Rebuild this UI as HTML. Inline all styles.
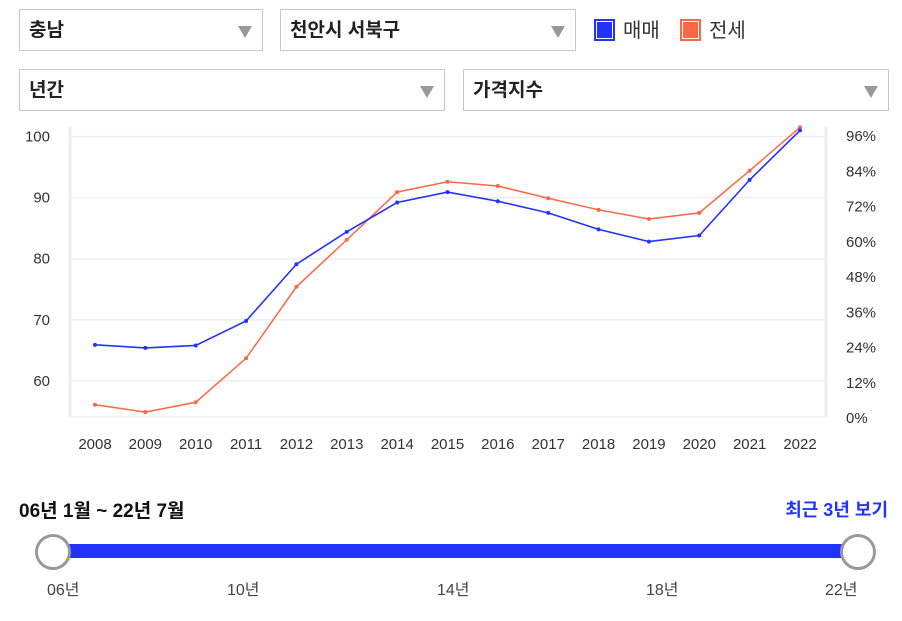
<!DOCTYPE html>
<html><head><meta charset="utf-8">
<style>
body{margin:0;width:902px;height:621px;background:#fff;font-family:"Liberation Sans","Noto Sans CJK KR",sans-serif;position:relative;overflow:hidden}
.sel{position:absolute;border:1px solid #c8c8cc;box-sizing:border-box;background:#fff;font-weight:bold;font-size:19px;color:#222;padding-left:9px;display:flex;align-items:center;line-height:1}
.sel .arr{position:absolute;right:10px;top:16px;width:0;height:0;border-left:7px solid transparent;border-right:7px solid transparent;border-top:12px solid #999}
.leg{position:absolute;top:19px;width:21px;height:22px;box-sizing:border-box}
.legt{position:absolute;top:19px;font-size:20px;color:#333;line-height:24px}
</style></head><body>
<div class="sel" style="left:19px;top:9px;width:244px;height:42px">충남<span class="arr"></span></div>
<div class="sel" style="left:280px;top:9px;width:296px;height:42px">천안시 서북구<span class="arr"></span></div>
<div class="leg" style="left:594px;background:#2233ff;border:2px solid #2233ff;box-shadow:inset 0 0 0 1px #fff"></div>
<div class="legt" style="left:623px">매매</div>
<div class="leg" style="left:680px;background:#ff6644;border:2px solid #ff6644;box-shadow:inset 0 0 0 1px #fff"></div>
<div class="legt" style="left:709px">전세</div>
<div class="sel" style="left:19px;top:69px;width:426px;height:42px">년간<span class="arr"></span></div>
<div class="sel" style="left:463px;top:69px;width:426px;height:42px">가격지수<span class="arr"></span></div>

<svg id="chart" width="902" height="460" style="position:absolute;left:0;top:0"></svg>

<div style="position:absolute;left:19px;top:496px;font-size:19px;font-weight:bold;color:#111">06년 1월 ~ 22년 7월</div>
<div style="position:absolute;right:14px;top:496px;font-size:18px;font-weight:bold;color:#2233ff">최근 3년 보기</div>
<div style="position:absolute;left:52px;top:544px;width:806px;height:14px;background:#2233ff"></div>
<div style="position:absolute;left:35px;top:534px;width:30px;height:30px;border:3px solid #999;border-radius:50%;background:#fff"></div>
<div style="position:absolute;left:840px;top:534px;width:30px;height:30px;border:3px solid #999;border-radius:50%;background:#fff"></div>
<div style="position:absolute;left:47px;top:576px;font-size:16px;color:#444">06년</div>
<div style="position:absolute;left:227px;top:576px;font-size:16px;color:#444">10년</div>
<div style="position:absolute;left:437px;top:576px;font-size:16px;color:#444">14년</div>
<div style="position:absolute;left:646px;top:576px;font-size:16px;color:#444">18년</div>
<div style="position:absolute;left:825px;top:576px;font-size:16px;color:#444">22년</div>

<script>
const years=["2008","2009","2010","2011","2012","2013","2014","2015","2016","2017","2018","2019","2020","2021","2022"];
const saleIndex=[65.9,65.4,65.8,69.8,79.1,84.4,89.2,90.9,89.4,87.5,84.8,82.8,83.8,92.9,101.0];
const jeonseIndex=[56.1,54.9,56.5,63.7,75.4,83.1,90.9,92.6,91.9,89.9,88.0,86.5,87.5,94.4,101.5];
const leftTicks=[60,70,80,90,100];
const rightTicks=[0,12,24,36,48,60,72,84,96];

const NS="http://www.w3.org/2000/svg";
const svg=document.getElementById('chart');
function mk(t,a){const e=document.createElementNS(NS,t);for(const k in a)e.setAttribute(k,a[k]);svg.appendChild(e);return e;}
const x=i=>95+i*(705/(years.length-1));
const y=v=>136.5+(100-v)*6.11;
const yr=p=>417-p*(282/96);
const fl=mk('line',{x1:70,y1:127,x2:70,y2:418,stroke:'#eee','stroke-width':3});

const fr=mk('line',{x1:826,y1:127,x2:826,y2:418,stroke:'#eee','stroke-width':3});

const fb=mk('line',{x1:70,y1:417,x2:826,y2:417,stroke:'#f2f2f2','stroke-width':1.5});

leftTicks.forEach(v=>{
 const g=mk('line',{x1:70,x2:826,y1:y(v),y2:y(v),stroke:'#eee','stroke-width':1.5});
 
 const t=mk('text',{x:50,y:y(v)+5,'text-anchor':'end','font-size':15,fill:'#333','font-family':'Liberation Sans, sans-serif'});
 t.textContent=v;
});
rightTicks.forEach(p=>{
 const t=mk('text',{x:846,y:yr(p)+6,'font-size':15,fill:'#333','font-family':'Liberation Sans, sans-serif'});
 t.textContent=p+'%';
});
years.forEach((yy,i)=>{
 const t=mk('text',{x:x(i),y:449,'text-anchor':'middle','font-size':15,fill:'#333','font-family':'Liberation Sans, sans-serif'});
 t.textContent=yy;
});
function series(vals,color,w,name){
 const p=mk('polyline',{points:vals.map((v,i)=>x(i)+','+y(v)).join(' '),fill:'none',stroke:color,'stroke-width':w});
 
 vals.forEach((v,i)=>{const c=mk('circle',{cx:x(i),cy:y(v),r:2,fill:color});
  });
}
series(jeonseIndex,'#ff6644',1.5,'jeonse');
series(saleIndex,'#2233ff',1.6,'sale');
</script>
</body></html>
